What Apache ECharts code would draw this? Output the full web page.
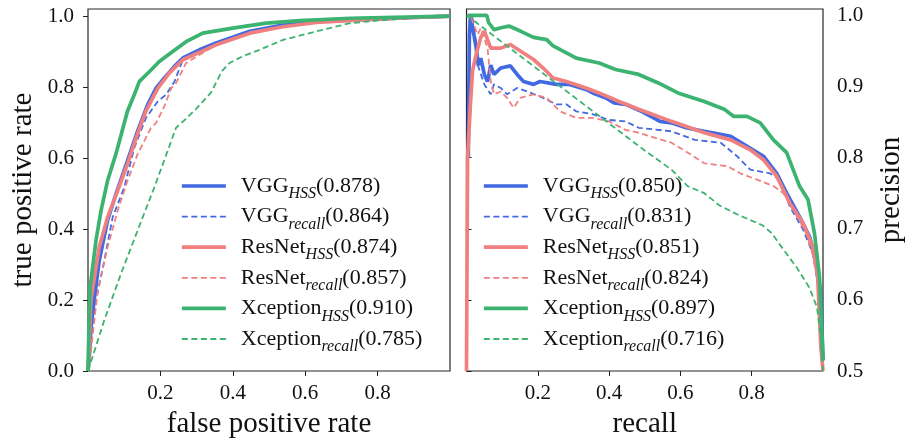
<!DOCTYPE html>
<html>
<head>
<meta charset="utf-8">
<script src="https://cdn.jsdelivr.net/npm/echarts@6/dist/echarts.min.js"></script>
<style>
  html, body { margin: 0; padding: 0; background: #fff; }
  #chart { width: 907px; height: 445px; }
</style>
</head>
<body>
<div id="chart"></div>
<script>
// 数据
var models = ['VGG', 'ResNet', 'Xception'];
var colors = ['#4169e1', '#f08080', '#3cb371'];
var aucRocHss = ['0.878', '0.874', '0.910'];
var aucRocRecall = ['0.864', '0.857', '0.785'];
var aucPrHss = ['0.850', '0.851', '0.897'];
var aucPrRecall = ['0.831', '0.824', '0.716'];

var xTicks = [0.2, 0.4, 0.6, 0.8];
var yTicksRoc = [0, 0.2, 0.4, 0.6, 0.8, 1.0];
var yTicksPr = [0.5, 0.6, 0.7, 0.8, 0.9, 1.0];

// ROC: [fpr, tpr]
var vggHssRoc = [[0,0],[0.003,0.031],[0.008,0.12],[0.017,0.2],[0.031,0.311],[0.054,0.424],[0.077,0.498],[0.109,0.592],[0.137,0.676],[0.165,0.751],[0.188,0.797],[0.211,0.826],[0.243,0.863],[0.262,0.882],[0.308,0.905],[0.354,0.924],[0.447,0.957],[0.538,0.975],[0.631,0.985],[0.77,0.991],[0.9,0.996],[1,1]];
var vggRecRoc = [[0,0],[0.003,0.003],[0.012,0.1],[0.022,0.2],[0.045,0.311],[0.068,0.433],[0.1,0.517],[0.128,0.629],[0.16,0.713],[0.193,0.76],[0.216,0.779],[0.239,0.816],[0.262,0.877],[0.308,0.905],[0.354,0.924],[0.447,0.957],[0.538,0.975],[0.631,0.985],[0.77,0.991],[1,1]];
var resHssRoc = [[0,0],[0.003,0.06],[0.008,0.2],[0.031,0.349],[0.054,0.433],[0.082,0.508],[0.109,0.583],[0.133,0.657],[0.16,0.732],[0.193,0.797],[0.225,0.84],[0.262,0.877],[0.354,0.919],[0.447,0.952],[0.538,0.97],[0.631,0.982],[0.77,0.99],[0.9,0.996],[1,1]];
var resRecRoc = [[0,0],[0.003,0.012],[0.026,0.218],[0.054,0.349],[0.082,0.452],[0.109,0.536],[0.137,0.611],[0.174,0.685],[0.188,0.699],[0.211,0.746],[0.23,0.797],[0.243,0.811],[0.271,0.868],[0.354,0.919],[0.447,0.952],[0.538,0.97],[0.631,0.982],[0.77,0.99],[1,1]];
var xcpHssRoc = [[0,0],[0.003,0.15],[0.006,0.236],[0.022,0.367],[0.036,0.452],[0.054,0.536],[0.077,0.611],[0.109,0.732],[0.128,0.779],[0.142,0.816],[0.17,0.844],[0.197,0.872],[0.234,0.9],[0.271,0.928],[0.317,0.952],[0.4,0.966],[0.493,0.98],[0.585,0.987],[0.724,0.994],[1,1]];
var xcpRecRoc = [[0,0],[0.003,0.003],[0.045,0.143],[0.091,0.274],[0.137,0.396],[0.183,0.517],[0.22,0.62],[0.243,0.685],[0.27,0.71],[0.3,0.74],[0.34,0.785],[0.37,0.845],[0.391,0.868],[0.43,0.888],[0.474,0.905],[0.539,0.933],[0.631,0.957],[0.724,0.98],[0.816,0.989],[0.9,0.995],[1,1]];

// PR: [recall, precision]
var vggHssPr = [[0.005,0.8],[0.008,0.97],[0.011,1.0],[0.016,1.0],[0.02,0.975],[0.027,0.955],[0.033,0.93],[0.04,0.94],[0.05,0.917],[0.059,0.907],[0.068,0.93],[0.077,0.917],[0.096,0.926],[0.123,0.929],[0.142,0.917],[0.16,0.907],[0.188,0.903],[0.206,0.907],[0.252,0.903],[0.289,0.903],[0.335,0.896],[0.354,0.891],[0.391,0.884],[0.414,0.877],[0.446,0.875],[0.487,0.866],[0.543,0.851],[0.575,0.849],[0.616,0.842],[0.667,0.837],[0.69,0.835],[0.741,0.83],[0.787,0.816],[0.833,0.802],[0.87,0.778],[0.898,0.75],[0.934,0.717],[0.962,0.689],[0.981,0.656],[0.994,0.609],[1,0.515]];
var vggRecPr = [[0.017,0.997],[0.027,0.96],[0.031,0.931],[0.05,0.903],[0.068,0.889],[0.077,0.903],[0.096,0.898],[0.114,0.889],[0.142,0.898],[0.17,0.893],[0.215,0.884],[0.252,0.875],[0.28,0.875],[0.308,0.865],[0.354,0.861],[0.4,0.853],[0.446,0.851],[0.483,0.842],[0.575,0.837],[0.64,0.825],[0.713,0.821],[0.759,0.802],[0.796,0.783],[0.851,0.778],[0.879,0.769],[0.907,0.731],[0.944,0.699],[0.971,0.666],[0.99,0.609],[1,0.5]];
var resHssPr = [[0,0.5],[0.003,0.8],[0.011,0.875],[0.017,0.922],[0.027,0.945],[0.04,0.969],[0.05,0.978],[0.068,0.954],[0.096,0.954],[0.123,0.959],[0.151,0.95],[0.188,0.938],[0.215,0.926],[0.243,0.912],[0.28,0.907],[0.335,0.898],[0.372,0.891],[0.428,0.879],[0.483,0.868],[0.575,0.851],[0.667,0.835],[0.741,0.825],[0.796,0.811],[0.833,0.797],[0.87,0.774],[0.907,0.736],[0.944,0.708],[0.971,0.675],[0.985,0.633],[0.994,0.534],[1,0.5]];
var resRecPr = [[0.013,0.997],[0.031,0.973],[0.04,0.982],[0.059,0.954],[0.068,0.907],[0.077,0.889],[0.096,0.893],[0.114,0.884],[0.132,0.87],[0.151,0.884],[0.188,0.889],[0.225,0.884],[0.262,0.865],[0.308,0.856],[0.354,0.856],[0.4,0.851],[0.446,0.839],[0.483,0.835],[0.575,0.821],[0.621,0.807],[0.667,0.792],[0.732,0.788],[0.768,0.778],[0.815,0.769],[0.861,0.76],[0.889,0.75],[0.916,0.727],[0.953,0.694],[0.981,0.647],[0.994,0.562],[1,0.5]];
var xcpHssPr = [[0.003,1.0],[0.057,1.0],[0.062,0.99],[0.077,0.98],[0.1,0.983],[0.119,0.985],[0.151,0.978],[0.188,0.969],[0.225,0.966],[0.243,0.957],[0.308,0.94],[0.372,0.933],[0.418,0.924],[0.483,0.917],[0.538,0.905],[0.593,0.891],[0.667,0.879],[0.723,0.868],[0.75,0.858],[0.787,0.858],[0.824,0.849],[0.861,0.825],[0.898,0.807],[0.934,0.76],[0.958,0.741],[0.976,0.694],[0.99,0.633],[1,0.515]];
var xcpRecPr = [[0,1.0],[0.022,0.992],[0.25,0.905],[0.5,0.81],[0.575,0.783],[0.62,0.76],[0.667,0.75],[0.709,0.733],[0.76,0.72],[0.83,0.705],[0.856,0.694],[0.88,0.677],[0.927,0.645],[0.962,0.617],[0.983,0.59],[0.993,0.55],[1,0.5]];

var rocData = [[vggHssRoc, vggRecRoc], [resHssRoc, resRecRoc], [xcpHssRoc, xcpRecRoc]];
var prData = [[vggHssPr, vggRecPr], [resHssPr, resRecPr], [xcpHssPr, xcpRecPr]];

var FONT = 'Liberation Serif';
var labelMap = {};

function seriesName(m, kind, auc) {
  var name = models[m] + '_' + kind + '(' + auc + ')';
  labelMap[name] = '{m|' + models[m] + '}{s|' + kind + '}{m|(' + auc + ')}';
  return name;
}

var series = [];
var legendRoc = [];
var legendPr = [];
for (var i = 0; i < models.length; i++) {
  var n1 = seriesName(i, 'HSS', aucRocHss[i]);
  var n2 = seriesName(i, 'recall', aucRocRecall[i]);
  var n3 = seriesName(i, 'HSS', aucPrHss[i]);
  var n4 = seriesName(i, 'recall', aucPrRecall[i]);
  legendRoc.push(n1, n2);
  legendPr.push(n3, n4);
  [[n1, rocData[i][0], 0, 'solid'], [n2, rocData[i][1], 0, 'dashed'],
   [n3, prData[i][0], 1, 'solid'], [n4, prData[i][1], 1, 'dashed']].forEach(function (s) {
    series.push({
      name: s[0],
      type: 'line',
      xAxisIndex: s[2],
      yAxisIndex: s[2],
      data: s[1],
      symbol: 'none',
      showSymbol: false,
      silent: true,
      lineStyle: {
        color: colors[i],
        width: s[3] === 'solid' ? 3.7 : 1.8,
        type: s[3] === 'solid' ? 'solid' : [6, 3.5]
      },
      itemStyle: { color: colors[i] },
      emphasis: { disabled: true }
    });
  });
}

var richText = {
  m: { fontFamily: FONT, fontSize: 22, color: '#111' },
  s: { fontFamily: FONT, fontSize: 16, fontStyle: 'italic', color: '#111', padding: [16, 0, 0, 0] }
};

function makeLegend(data, left) {
  return {
    data: data,
    orient: 'vertical',
    left: left,
    top: 175,
    padding: 0,
    itemWidth: 44,
    itemHeight: 12,
    itemGap: 3.6,
    itemStyle: { opacity: 0 },
    lineStyle: { width: 'inherit' },
    selectedMode: false,
    formatter: function (name) { return labelMap[name]; },
    textStyle: { fontFamily: FONT, fontSize: 22, lineHeight: 22, padding: [0, 0, 0, 10], rich: richText }
  };
}

function fmt(v) { return v.toFixed(1); }

var tickStyle = { length: 5, lineStyle: { color: '#222', width: 1 } };
var labelStyle = { fontFamily: FONT, fontSize: 21, color: '#111' };
var nameStyle = { fontFamily: FONT, fontSize: 29, color: '#111' };

function xAxis(idx, name) {
  return {
    gridIndex: idx, type: 'value', min: 0, max: 1,
    name: name, nameLocation: 'middle', nameGap: 39, nameTextStyle: nameStyle,
    axisLine: { show: false }, splitLine: { show: false },
    axisTick: Object.assign({ customValues: xTicks }, tickStyle),
    axisLabel: Object.assign({ customValues: xTicks, formatter: fmt, margin: 12 }, labelStyle)
  };
}

var option = {
  animation: false,
  backgroundColor: '#fff',
  grid: [
    { left: 88, top: 9, width: 362, height: 362, show: true, borderColor: '#262626', borderWidth: 1.2 },
    { left: 466.5, top: 9, width: 360.5, height: 362, show: true, borderColor: '#262626', borderWidth: 1.2 }
  ],
  xAxis: [xAxis(0, 'false positive rate'), xAxis(1, 'recall')],
  yAxis: [
    {
      gridIndex: 0, type: 'value', min: 0, max: 1.02,
      name: 'true positive rate', nameLocation: 'middle', nameGap: 50, nameRotate: 90, nameTextStyle: nameStyle,
      axisLine: { show: false }, splitLine: { show: false },
      axisTick: Object.assign({ customValues: yTicksRoc }, tickStyle),
      axisLabel: Object.assign({ customValues: yTicksRoc, formatter: fmt, margin: 14 }, labelStyle)
    },
    {
      gridIndex: 1, type: 'value', min: 0.5, max: 1.009, position: 'right',
      name: 'precision', nameLocation: 'middle', nameGap: 54, nameRotate: 90, nameTextStyle: nameStyle,
      axisLine: { show: false }, splitLine: { show: false },
      axisTick: Object.assign({ customValues: yTicksPr }, tickStyle),
      axisLabel: Object.assign({ customValues: yTicksPr, formatter: fmt, margin: 14 }, labelStyle)
    }
  ],
  legend: [makeLegend(legendRoc, 180), makeLegend(legendPr, 482)],
  series: series
};

var chart = echarts.init(document.getElementById('chart'), null, { renderer: 'canvas' });
chart.setOption(option);
</script>
</body>
</html>
